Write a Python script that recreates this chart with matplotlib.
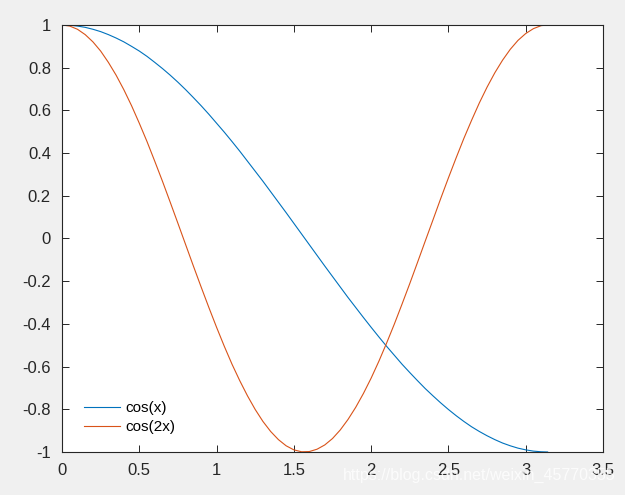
import matplotlib.pyplot as plt

plt.rcParams['font.family'] = ['Liberation Sans', 'DejaVu Sans']

x = [0.00, 0.05, 0.10, 0.15, 0.20, 0.25, 0.30, 0.35, 0.40, 0.45, 0.50, 0.55, 0.60,
     0.65, 0.70, 0.75, 0.80, 0.85, 0.90, 0.95, 1.00, 1.05, 1.10, 1.15, 1.20, 1.25,
     1.30, 1.35, 1.40, 1.45, 1.50, 1.55, 1.60, 1.65, 1.70, 1.75, 1.80, 1.85, 1.90,
     1.95, 2.00, 2.05, 2.10, 2.15, 2.20, 2.25, 2.30, 2.35, 2.40, 2.45, 2.50, 2.55,
     2.60, 2.65, 2.70, 2.75, 2.80, 2.85, 2.90, 2.95, 3.00, 3.05, 3.10, 3.1416]
cos_x = [1.000, 0.999, 0.995, 0.989, 0.980, 0.969, 0.955, 0.939, 0.921, 0.900,
         0.878, 0.853, 0.825, 0.796, 0.765, 0.732, 0.697, 0.660, 0.622, 0.582,
         0.540, 0.498, 0.454, 0.409, 0.362, 0.315, 0.268, 0.219, 0.170, 0.121,
         0.071, 0.021, -0.029, -0.079, -0.129, -0.178, -0.227, -0.276, -0.323,
         -0.370, -0.416, -0.461, -0.505, -0.547, -0.589, -0.628, -0.666, -0.703,
         -0.737, -0.770, -0.801, -0.830, -0.857, -0.882, -0.904, -0.924, -0.942,
         -0.958, -0.971, -0.982, -0.990, -0.996, -0.999, -1.000]
cos_2x = [1.000, 0.995, 0.980, 0.955, 0.921, 0.878, 0.825, 0.765, 0.697, 0.622,
          0.540, 0.454, 0.362, 0.268, 0.170, 0.071, -0.029, -0.129, -0.227, -0.323,
          -0.416, -0.505, -0.589, -0.666, -0.737, -0.801, -0.857, -0.904, -0.942,
          -0.971, -0.990, -0.999, -0.998, -0.987, -0.967, -0.937, -0.897, -0.848,
          -0.791, -0.726, -0.654, -0.575, -0.490, -0.401, -0.307, -0.211, -0.112,
          -0.012, 0.087, 0.187, 0.284, 0.378, 0.469, 0.554, 0.635, 0.709, 0.776,
          0.835, 0.886, 0.928, 0.960, 0.983, 0.997, 1.000]

xticks = [0, 0.5, 1, 1.5, 2, 2.5, 3, 3.5]
xticklabels = ['0', '0.5', '1', '1.5', '2', '2.5', '3', '3.5']
yticks = [-1, -0.8, -0.6, -0.4, -0.2, 0, 0.2, 0.4, 0.6, 0.8, 1]
yticklabels = ['-1', '-0.8', '-0.6', '-0.4', '-0.2', '0', '0.2', '0.4', '0.6', '0.8', '1']

fig = plt.figure(figsize=(6.25, 4.95), dpi=100, facecolor='#f0f0f0')
ax = fig.add_axes([0.0992, 0.0869, 0.8656, 0.8626])

ax.plot(x, cos_x, color='#0072BD', linewidth=0.8, label='cos(x)')
ax.plot(x, cos_2x, color='#D95319', linewidth=0.8, label='cos(2x)')

ax.set_xlim(0, 3.5)
ax.set_ylim(-1, 1)
ax.set_xticks(xticks)
ax.set_xticklabels(xticklabels)
ax.set_yticks(yticks)
ax.set_yticklabels(yticklabels)
ax.tick_params(direction='in', top=True, right=True, length=5, width=0.7,
               labelsize=12, colors='#262626', pad=8)
for s in ax.spines.values():
    s.set_color('#262626')
    s.set_linewidth(0.8)

leg = ax.legend(loc='lower left', bbox_to_anchor=(0.015, 0.01), frameon=False,
                fontsize=11, handlelength=2.35, handletextpad=0.35, labelspacing=0.3)

# Wasserzeichen
fig.text(0.549, 0.025, 'https://blog.csdn.net/weixin_45770355', color='white',
         alpha=0.8, fontsize=11.5, ha='left', va='bottom')

plt.savefig('out.png', dpi=100, facecolor=fig.get_facecolor())
